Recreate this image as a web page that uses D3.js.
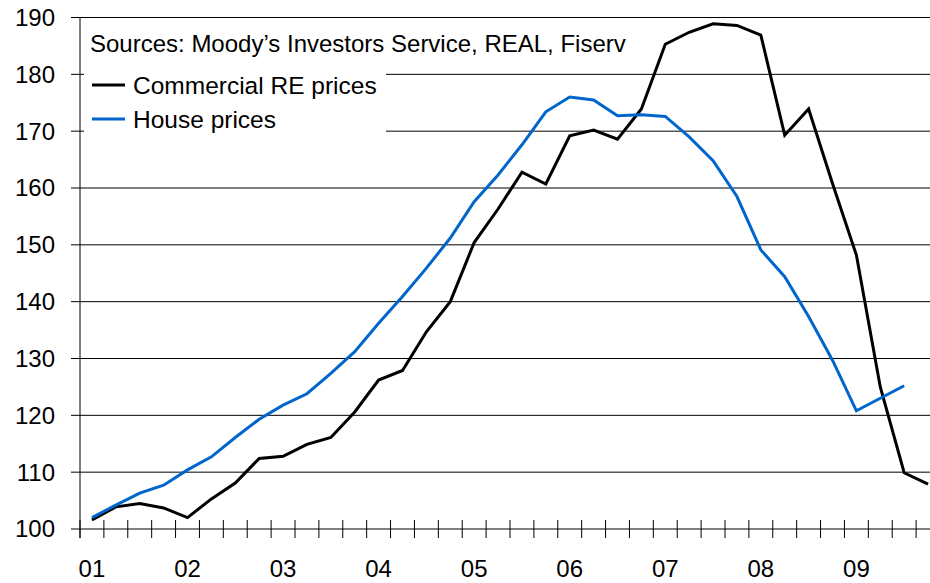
<!DOCTYPE html>
<html lang="en">
<head>
    <meta charset="UTF-8">
    <title>Commercial RE vs house prices</title>
    <script src="https://cdn.jsdelivr.net/npm/d3@7/dist/d3.min.js"></script>
    <style>
        body { margin: 0; background: #fff; }
        svg { display: block; font-family: "Liberation Sans", Arial, sans-serif; }
    </style>
</head>
<body>
<svg id="svg" width="930" height="583"></svg>
<script>
    // year labels, one per 4 quarters
    var years = ["01", "02", "03", "04", "05", "06", "07", "08", "09"];
    var quarters = [];
    years.forEach(function (yr) {
        for (var q = 1; q <= 4; q++) quarters.push(yr + "Q" + q);
    });

    // index values, quarterly from 2001Q1
    var commercial = [101.6, 103.9, 104.5, 103.7, 102.0, 105.3, 108.1, 112.4, 112.8, 114.9,
        116.1, 120.6, 126.2, 127.9, 134.7, 140.0, 150.4, 156.3, 162.8, 160.7,
        169.2, 170.2, 168.6, 173.9, 185.3, 187.4, 188.9, 188.6, 186.9, 169.3,
        173.9, 160.8, 148.2, 125.0, 109.9, 107.9];
    var house = [102.0, 104.2, 106.3, 107.7, 110.4, 112.7, 116.1, 119.3, 121.8, 123.8,
        127.4, 131.2, 136.2, 140.9, 145.9, 151.2, 157.6, 162.3, 167.6, 173.4,
        176.0, 175.5, 172.7, 172.9, 172.6, 169.0, 164.8, 158.5, 149.1, 144.4,
        137.4, 129.7, 120.8, 123.0, 125.2];
    var yTicks = [100, 110, 120, 130, 140, 150, 160, 170, 180, 190];

    var seriesList = [
        {name: "Commercial RE prices", values: commercial, color: "#000000"},
        {name: "House prices", values: house, color: "#0066cc"}
    ];
    var source = "Sources: Moody\u2019s Investors Service, REAL, Fiserv";

    function drawChart() {
        var svg = d3.select("#svg");
        var left = 80, right = 940, plotTop = 17.5, bottom = 529;

        var x = d3.scaleBand().domain(quarters).range([left, right]);
        var y = d3.scaleLinear().domain([100, 190]).range([bottom, plotTop]);

        // gridlines (with tick stub on the left)
        svg.append("g")
            .selectAll("line")
            .data(yTicks)
            .enter()
            .append("line")
            .attr("x1", left - 9)
            .attr("x2", right)
            .attr("y1", function (d) { return y(d); })
            .attr("y2", function (d) { return y(d); })
            .style("stroke", "#000")
            .style("stroke-width", 1);

        // y labels
        svg.append("g")
            .selectAll("text")
            .data(yTicks)
            .enter()
            .append("text")
            .attr("x", 55)
            .attr("y", function (d) { return y(d); })
            .attr("dy", "0.35em")
            .attr("text-anchor", "end")
            .style("font-size", "24px")
            .text(function (d) { return d; });

        // y axis line
        svg.append("line")
            .attr("x1", left).attr("x2", left)
            .attr("y1", plotTop).attr("y2", bottom + 9)
            .style("stroke", "#000").style("stroke-width", 1);

        // x axis: quarter ticks crossing the line
        var bounds = quarters.map(function (q) { return x(q); }).concat([right]);
        svg.append("g")
            .selectAll("line")
            .data(bounds)
            .enter()
            .append("line")
            .attr("x1", function (d) { return d; })
            .attr("x2", function (d) { return d; })
            .attr("y1", bottom - 9)
            .attr("y2", bottom + 9)
            .style("stroke", "#000")
            .style("stroke-width", 1);

        svg.append("g")
            .selectAll("text")
            .data(years)
            .enter()
            .append("text")
            .attr("x", function (d) { return x(d + "Q1") + x.bandwidth() / 2; })
            .attr("y", 577)
            .attr("text-anchor", "middle")
            .style("font-size", "24px")
            .text(function (d) { return d; });

        // series lines
        var line = d3.line()
            .x(function (d, i) { return x(quarters[i]) + x.bandwidth() / 2; })
            .y(function (d) { return y(d); });

        svg.append("g")
            .selectAll("path")
            .data(seriesList)
            .enter()
            .append("path")
            .attr("d", function (d) { return line(d.values); })
            .style("fill", "none")
            .style("stroke", function (d) { return d.color; })
            .style("stroke-width", 3)
            .style("stroke-linejoin", "miter");

        // legend box
        var legend = svg.append("g");
        legend.append("rect")
            .attr("x", 84).attr("y", 22)
            .attr("width", 302).attr("height", 116)
            .style("fill", "#fff");
        legend.append("text")
            .attr("x", 90).attr("y", 52)
            .style("font-size", "24px")
            .text(source);
        var items = legend.selectAll("g.item")
            .data(seriesList)
            .enter()
            .append("g")
            .attr("class", "item")
            .attr("transform", function (d, i) { return "translate(0," + (85 + i * 34) + ")"; });
        items.append("line")
            .attr("x1", 92).attr("x2", 125)
            .attr("y1", 0).attr("y2", 0)
            .style("stroke", function (d) { return d.color; })
            .style("stroke-width", 3);
        items.append("text")
            .attr("x", 133).attr("y", 8.5)
            .style("font-size", "24.5px")
            .text(function (d) { return d.name; });
    }

    drawChart();
</script>
</body>
</html>
